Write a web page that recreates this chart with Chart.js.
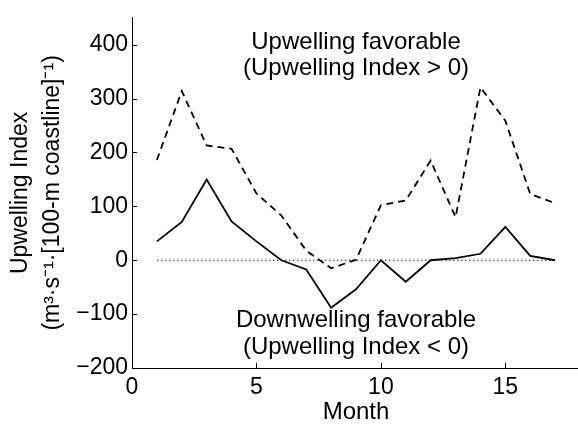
<!DOCTYPE html>
<html>
<head>
<meta charset="utf-8">
<script src="https://cdn.jsdelivr.net/npm/chart.js@4"></script>
<style>
  html, body { margin: 0; padding: 0; background: #fff; overflow: hidden; width: 578px; height: 424px; }
  #wrap { width: 582px; height: 424px; }
</style>
</head>
<body>
<div id="wrap"><canvas id="c" width="582" height="424"></canvas></div>
<script>
// ---- data ----
const months = [1, 2, 3, 4, 5, 6, 7, 8, 9, 10, 11, 12, 13, 14, 15, 16, 17];
const solidSeries = [35, 71, 150, 72, 35, 0, -17, -88, -54, 0, -40, 0, 4, 12, 62, 8, 0];
const dashedSeries = [186, 314, 213, 207, 124, 83, 18, -15, 1, 102, 111, 185, 80, 321, 259, 123, 106];
const zeroMonths = [1, 17];
const zeroValues = [0, 0];
const xTicks = [0, 5, 10, 15];
const yTicks = [-200, -100, 0, 100, 200, 300, 400];
const yTitle = ['Upwelling Index', '(m\u00B3\u00B7s\u207B\u00B9\u00B7[100-m coastline]\u207B\u00B9)'];
const xTitle = 'Month';
const notes = [
  { text: 'Upwelling favorable', x: 9, y: 405 },
  { text: '(Upwelling Index > 0)', x: 9, y: 356 },
  { text: 'Downwelling favorable', x: 9, y: -111 },
  { text: '(Upwelling Index < 0)', x: 9, y: -161 }
];

const FONT = "'Liberation Sans', Arial, Helvetica, sans-serif";
const pts = (xs, ys) => xs.map((x, i) => ({ x: x, y: ys[i] }));

const inwardTicks = {
  id: 'inwardTicks',
  afterDatasetsDraw(chart) {
    const ctx = chart.ctx, xs = chart.scales.x, ys = chart.scales.y;
    ctx.save();
    ctx.strokeStyle = '#000';
    ctx.lineWidth = 1;
    ctx.beginPath();
    xTicks.forEach(v => {
      const px = Math.round(xs.getPixelForValue(v)) + 0.5;
      ctx.moveTo(px, ys.bottom);
      ctx.lineTo(px, ys.bottom - 5);
    });
    yTicks.forEach(v => {
      const py = Math.round(ys.getPixelForValue(v)) + 0.5;
      ctx.moveTo(xs.left, py);
      ctx.lineTo(xs.left + 5, py);
    });
    ctx.stroke();
    ctx.restore();
  }
};

const notesPlugin = {
  id: 'notes',
  afterDatasetsDraw(chart) {
    const ctx = chart.ctx, xs = chart.scales.x, ys = chart.scales.y;
    ctx.save();
    ctx.fillStyle = '#000';
    ctx.font = '24px ' + FONT;
    ctx.textAlign = 'center';
    ctx.textBaseline = 'middle';
    notes.forEach(n => ctx.fillText(n.text, xs.getPixelForValue(n.x), ys.getPixelForValue(n.y)));
    ctx.restore();
  }
};

new Chart(document.getElementById('c'), {
  type: 'line',
  data: {
    datasets: [
      {
        label: 'Upwelling index',
        data: pts(months, solidSeries),
        borderColor: '#000',
        borderWidth: 1.8,
        pointRadius: 0,
        tension: 0,
        fill: false
      },
      {
        label: 'Upwelling (dashed)',
        data: pts(months, dashedSeries),
        borderColor: '#000',
        borderWidth: 1.8,
        borderDash: [7, 5],
        pointRadius: 0,
        tension: 0,
        fill: false
      },
      {
        label: 'zero',
        data: pts(zeroMonths, zeroValues),
        borderColor: '#111',
        borderWidth: 1.2,
        borderDash: [1.5, 2.5],
        pointRadius: 0,
        fill: false
      }
    ]
  },
  options: {
    responsive: false,
    animation: false,
    devicePixelRatio: 1,
    layout: { padding: { left: 0, top: 13, right: 2, bottom: 0 } },
    plugins: {
      legend: { display: false },
      tooltip: { enabled: false }
    },
    scales: {
      x: {
        type: 'linear',
        min: 0,
        max: 18,
        afterBuildTicks: s => { s.ticks = xTicks.map(v => ({ value: v })); },
        afterFit: s => { s.height = 56; },
        grid: { display: false, drawTicks: false },
        border: { display: true, color: '#000', width: 1 },
        ticks: { color: '#000', font: { family: FONT, size: 23 }, padding: 6, maxRotation: 0 },
        title: { display: true, text: xTitle, color: '#000', font: { family: FONT, size: 24, lineHeight: 1 }, padding: { top: 0, bottom: 0 } }
      },
      y: {
        type: 'linear',
        min: -200,
        max: 450,
        afterBuildTicks: s => { s.ticks = yTicks.map(v => ({ value: v })); },
        afterFit: s => { s.width = 132; },
        grid: { display: false, drawTicks: false },
        border: { display: true, color: '#000', width: 1 },
        ticks: {
          color: '#000', font: { family: FONT, size: 23 }, padding: 4,
          callback: v => String(v).replace('-', '\u2212')
        },
        title: { display: true, text: yTitle, color: '#000', font: { family: FONT, size: 23, lineHeight: 1.38 }, padding: { top: 5, bottom: 0 } }
      }
    }
  },
  plugins: [inwardTicks, notesPlugin]
});
</script>
</body>
</html>
